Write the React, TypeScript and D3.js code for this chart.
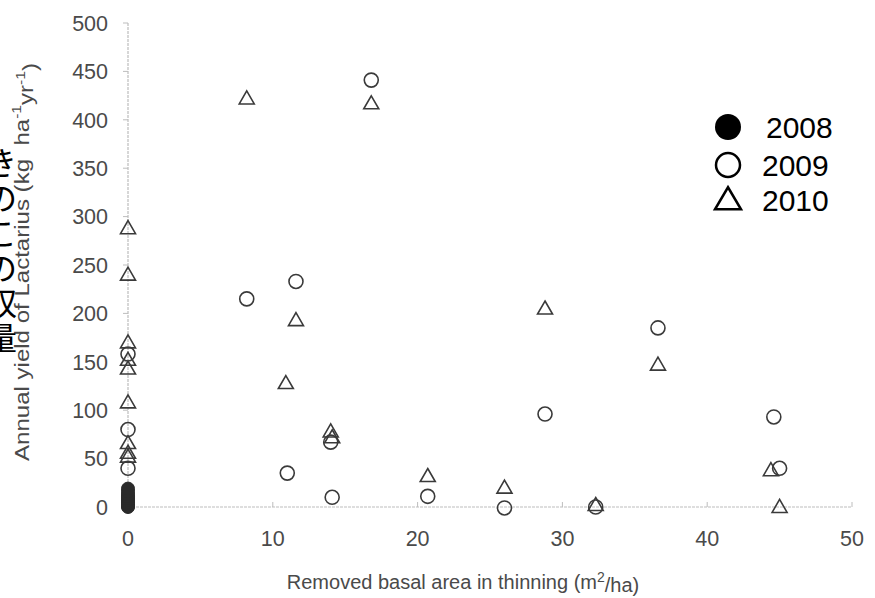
import React from "react";
import * as d3 from "d3";

const W = 875;
const H = 598;

// 2008 (filled circles) — all at x = 0
const x2008 = [0, 0, 0, 0, 0, 0, 0, 0, 0, 0];
const y2008 = [0, 1, 3, 5, 7, 9, 11, 13, 16, 19];

// 2009 (open circles)
const x2009 = [0, 0, 0, 8.2, 11.0, 11.6, 14.0, 14.1, 16.8, 20.7, 26.0, 28.8, 32.3, 36.6, 44.6, 45.0];
const y2009 = [158, 80, 40, 215, 35, 233, 67, 10, 441, 11, -1, 96, 0, 185, 93, 40];

// 2010 (open triangles)
const x2010 = [0, 0, 0, 0, 0, 0, 0, 0, 0, 8.2, 10.9, 11.6, 14.0, 14.1, 16.8, 20.7, 26.0, 28.8, 32.3, 36.6, 44.4, 45.0];
const y2010 = [288, 240, 170, 152, 143, 108, 66, 56, 52, 422, 128, 193, 78, 72, 417, 32, 20, 205, 2, 147, 38, 0];

const xTicks = [0, 10, 20, 30, 40, 50];
const yTicks = [0, 50, 100, 150, 200, 250, 300, 350, 400, 450, 500];

const legendYears = ["2008", "2009", "2010"];
const jpLabel = ["き", "の", "こ", "の", "収", "量"];

const xScale = d3.scaleLinear().domain([0, 50]).range([128, 852]);
const yScale = d3.scaleLinear().domain([0, 500]).range([507, 23]);

const AX = "#bdbdbd";
const TXT = "#4a4a4a";
const MK = "#3a3a3a";
const FONT = "'Liberation Sans', Arial, sans-serif";

function tri(cx: number, cy: number, w: number, h: number) {
  return `M${cx},${cy - h * 0.58} L${cx + w / 2},${cy + h * 0.42} L${cx - w / 2},${cy + h * 0.42} Z`;
}

export default function App() {
  const x0 = xScale(0);
  const y0 = yScale(0);
  return (
    <svg
      width={W}
      height={H}
      style={{ position: "absolute", left: 0, top: 0, background: "#fff" }}
      fontFamily={FONT}
    >
      <rect width={W} height={H} fill="#fff" />
      {/* axes */}
      <line x1={x0} x2={x0} y1={yScale(500)} y2={y0} stroke={AX} strokeWidth={1.2} strokeDasharray="3,1" />
      <line x1={x0} x2={xScale(50)} y1={y0} y2={y0} stroke={AX} strokeWidth={1.2} strokeDasharray="3,1" />
      {yTicks.map((t) => (
        <g key={"y" + t}>
          <line x1={x0 - 5} x2={x0} y1={yScale(t)} y2={yScale(t)} stroke={AX} strokeWidth={1} />
          <text x={108} y={yScale(t)} dy="0.36em" textAnchor="end" fontSize={21.5} fill={TXT}>
            {t}
          </text>
        </g>
      ))}
      {xTicks.map((t) => (
        <g key={"x" + t}>
          <line x1={xScale(t)} x2={xScale(t)} y1={y0} y2={y0 - 5} stroke={AX} strokeWidth={1} />
          <text x={xScale(t)} y={538} dy="0.36em" textAnchor="middle" fontSize={21.5} fill={TXT}>
            {t}
          </text>
        </g>
      ))}

      {/* axis titles */}
      <text x={463} y={582} dy="0.36em" textAnchor="middle" fontSize={20} fill={TXT}>
        Removed basal area in thinning (m
        <tspan fontSize={14} dy="-0.5em">2</tspan>
        <tspan dy="0.5em">/ha)</tspan>
      </text>
      <text
        transform={`translate(29,${262}) rotate(-90)`}
        textAnchor="middle"
        fontSize={20}
        fill={TXT}
        textLength={398}
        lengthAdjust="spacingAndGlyphs"
      >
        Annual yield of Lactarius (kg{"\u00a0\u00a0"}ha
        <tspan fontSize={13} dy="-0.6em">-1</tspan>
        <tspan dy="0.6em">yr</tspan>
        <tspan fontSize={13} dy="-0.6em">-1</tspan>
        <tspan dy="0.6em">)</tspan>
      </text>

      {/* Japanese vertical label (clipped at left edge) */}
      {jpLabel.map((c, i) => (
        <text
          key={"jp" + i}
          x={1}
          y={163 + i * 35}
          dy="0.36em"
          textAnchor="middle"
          fontSize={32}
          fill="#000"
          fontFamily="'Noto Sans CJK JP', sans-serif"
        >
          {c}
        </text>
      ))}

      {/* data */}
      {x2008.map((x, i) => (
        <circle key={"a" + i} cx={xScale(x)} cy={yScale(y2008[i])} r={6.5} fill="#2a2a2a" stroke="#2a2a2a" strokeWidth={1} />
      ))}
      {x2009.map((x, i) => (
        <circle key={"b" + i} cx={xScale(x)} cy={yScale(y2009[i])} r={7} fill="none" stroke={MK} strokeWidth={1.6} />
      ))}
      {x2010.map((x, i) => (
        <path key={"c" + i} d={tri(xScale(x), yScale(y2010[i]), 15, 13)} fill="none" stroke={MK} strokeWidth={1.6} strokeLinejoin="miter" />
      ))}

      {/* legend */}
      {legendYears.map((yr, i) => {
        const cy = [127, 165, 200][i];
        return (
          <g key={yr}>
            {i === 0 && <circle cx={728} cy={cy} r={13} fill="#000" />}
            {i === 1 && <circle cx={728} cy={cy} r={12} fill="none" stroke="#000" strokeWidth={2.5} />}
            {i === 2 && <path d={tri(728, cy, 26, 22)} fill="none" stroke="#000" strokeWidth={2.5} />}
            <text x={i === 0 ? 766 : 762} y={cy} dy="0.36em" fontSize={30} fill="#000">
              {yr}
            </text>
          </g>
        );
      })}
    </svg>
  );
}
